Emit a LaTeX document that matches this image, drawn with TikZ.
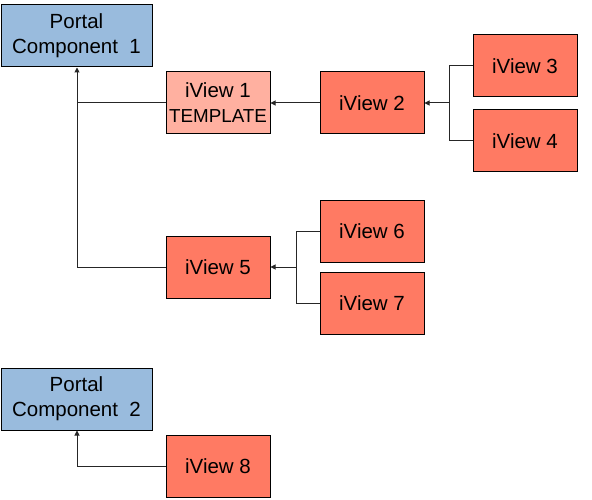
\documentclass[tikz,border=0pt]{standalone}
\usepackage{fontspec}
\setmainfont{Liberation Sans}
\usetikzlibrary{arrows.meta}
\definecolor{pcblue}{RGB}{153,187,221}
\definecolor{ivred}{RGB}{255,122,99}
\definecolor{ivlight}{RGB}{255,176,160}
\begin{document}
\begin{tikzpicture}[x=1pt,y=-1pt,
  box/.style={draw=black,line width=1pt,minimum width=104pt,minimum height=62pt,inner sep=0pt,align=center,font=\fontsize{20.5}{25}\selectfont},
  pc/.style={box,fill=pcblue,minimum width=151pt},
  iv/.style={box,fill=ivred},
  ivt/.style={box,fill=ivlight},
  conn/.style={line width=1pt,draw=black!85},
  arr/.style={conn,-{Triangle[length=5pt,width=5pt]}}]
\useasboundingbox (0,0) rectangle (592,500);
\node[pc] (pc1) at (76.5,36) {Portal\\Component\ \ 1};
\node[ivt] (iv1) at (218,103) {iView 1\\{\fontsize{18.8}{25}\selectfont TEMPLATE}};
\node[iv] (iv2) at (372,103) {iView 2};
\node[iv] (iv3) at (525,66) {iView 3};
\node[iv] (iv4) at (525,141) {iView 4};
\node[iv] (iv5) at (218,267) {iView 5};
\node[iv] (iv6) at (372,231.5) {iView 6};
\node[iv] (iv7) at (372,303.5) {iView 7};
\node[pc] (pc2) at (76.5,399) {Portal\\Component\ \ 2};
\node[iv] (iv8) at (218,466) {iView 8};
\coordinate (j1) at (77,267);
\coordinate (j1a) at (77,103);
\coordinate (j2) at (449,103);
\coordinate (j3) at (296,267);
\coordinate (j4) at (77,466);
% to Portal Component 1
\draw[arr] (iv5.west) -- (j1) -- (j1 |- pc1.south);
\draw[conn] (iv1.west) -- (j1a);
% iView 2 -> iView 1
\draw[arr] (iv2.west) -- (iv1.east);
% iView 3/4 -> iView 2
\draw[conn] (iv3.west) -- (j2 |- iv3.west) -- (j2 |- iv4.west) -- (iv4.west);
\draw[arr] (j2) -- (iv2.east);
% iView 6/7 -> iView 5
\draw[conn] (iv6.west) -- (j3 |- iv6.west) -- (j3 |- iv7.west) -- (iv7.west);
\draw[arr] (j3) -- (iv5.east);
% iView 8 -> Portal Component 2
\draw[arr] (iv8.west) -- (j4) -- (j4 |- pc2.south);
\end{tikzpicture}
\end{document}
